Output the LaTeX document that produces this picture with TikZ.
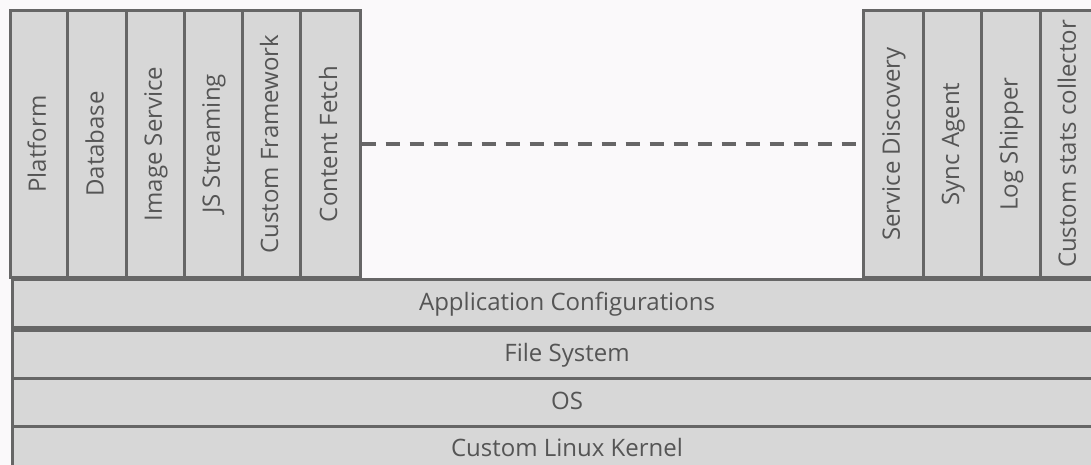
\documentclass[tikz,border=0pt]{standalone}
\usepackage{fontspec}
\setmainfont{Open Sans}
\definecolor{bg}{RGB}{250,249,250}
\definecolor{boxfill}{RGB}{215,215,215}
\definecolor{boxline}{RGB}{102,102,102}
\definecolor{txt}{RGB}{85,85,85}
\begin{document}
\begin{tikzpicture}[x=1pt,y=-1pt,
  blk/.style={draw=boxline, fill=boxfill, line width=3pt, inner sep=0pt, text=txt, font=\fontsize{24}{28}\selectfont, text height=18.5pt, text depth=5pt},
  col/.style={blk, rotate=90, minimum width=266pt},
  row/.style={blk, minimum height=48pt, minimum width=1110pt, anchor=north west}]
\useasboundingbox (0,0) rectangle (1091,465);
\fill[bg] (0,0) rectangle (1091,465);
\clip (0,0) rectangle (1091,465);
% left columns
\node[col, minimum height=57pt] (c1) at (39,144) {Platform};
\node[col, minimum height=58.5pt] (c2) at (96.75,144) {Database};
\node[col, minimum height=58pt] (c3) at (155,144) {Image Service};
\node[col, minimum height=58pt] (c4) at (213,144) {JS Streaming};
\node[col, minimum height=58.5pt] (c5) at (271.25,144) {Custom Framework};
\node[col, minimum height=59.5pt] (c6) at (330.25,144) {Content Fetch};
% right columns
\node[col, minimum height=60pt] (r1) at (893,144) {Service Discovery};
\node[col, minimum height=58.7pt] (r2) at (952.35,144) {Sync Agent};
\node[col, minimum height=58.3pt] (r3) at (1010.85,144) {Log Shipper};
\node[col, minimum height=58pt] (r4) at (1069,144) {Custom stats collector};
% rows
\node[row] (a) at (10.5,278) {Application Configurations};
\node[row] (f) at (10.5,329) {File System};
\node[row] (o) at (10.5,377) {OS};
\node[row] (k) at (10.5,424.5) {Custom Linux Kernel};
% dashed connector
\draw[boxline, line width=4.5pt, dash pattern=on 14pt off 10pt] (c6.south) -- (r1.north);
\end{tikzpicture}
\end{document}
